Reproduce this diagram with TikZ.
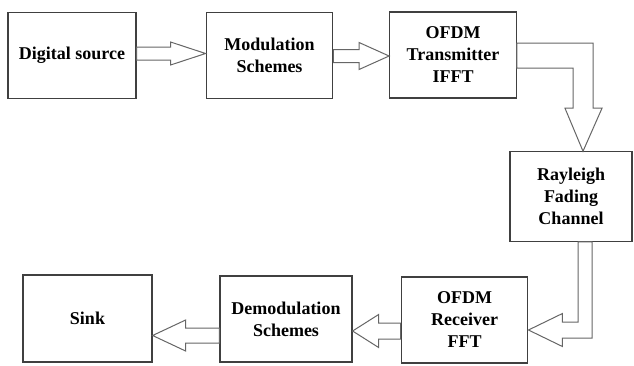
\documentclass[tikz,border=0pt]{standalone}
\usepackage{fontspec}
\setmainfont{Liberation Serif}
\usepackage{tikz}
\usetikzlibrary{calc}

\begin{document}
\begin{tikzpicture}[x=0.75pt,y=-0.75pt,
        block/.style={draw=black!75,line width=0.9pt,inner sep=0pt,align=center,
            minimum width=95pt,minimum height=64pt,
            font=\fontsize{13.5}{16.5}\selectfont\bfseries},
        fat/.style={draw=black!60,line width=0.75pt,fill=white,line join=miter}]
        \useasboundingbox (0,0) rectangle (634,365);

        % blocks
        \node[block,minimum width=96pt] (src) at (72,55.5){Digital source};
        \node[block] (mod) at (269.5,55.5){Modulation\\Schemes};
        \node[block,minimum height=64.5pt] (tx) at (453,55){OFDM\\Transmitter\\IFFT};
        \node[block,minimum width=91.5pt,minimum height=67pt] (ch) at (571,196.5){Rayleigh\\Fading\\Channel};
        \node[block,minimum height=64.5pt] (rx) at (464.5,320){OFDM\\Receiver\\FFT};
        \node[block,minimum width=99pt,minimum height=64.5pt] (dem) at (286,319){Demodulation\\Schemes};
        \node[block,minimum width=96.75pt,minimum height=65.25pt] (sink) at (87.5,318.5){Sink};

        % arrow tips
        \coordinate (t1) at ($(mod.west)+(0,-2)$);
        \coordinate (t2) at ($(tx.west)+(0,1)$);
        \coordinate (t3) at ($(ch.north)+(12,0)$);
        \coordinate (t4) at ($(rx.east)+(0,10)$);
        \coordinate (t5) at ($(dem.east)+(0,12)$);
        \coordinate (t6) at ($(sink.east)+(0,17)$);

        \draw[fat] ($(src.east |- t1)+(0,-6.5)$) -- ($(t1)+(-35,-6.5)$) -- ++(0,-5)
            -- (t1) -- ++(-35,11.5) -- ++(0,-5) -- ($(src.east |- t1)+(0,6.5)$) -- cycle;
        \draw[fat] ($(mod.east |- t2)+(0,-6.5)$) -- ($(t2)+(-30,-6.5)$) -- ++(0,-7)
            -- (t2) -- ++(-30,13.5) -- ++(0,-7) -- ($(mod.east |- t2)+(0,6.5)$) -- cycle;
        \draw[fat] ($(tx.east)+(0,-12)$) -| ($(t3)+(10,-43)$) -- ++(9,0)
            -- (t3) -- ++(-18,-43) -- ++(8,0) |- ($(tx.east)+(0,13)$) -- cycle;
        \draw[fat] ($(ch.south)+(21,0)$) |- ($(t4)+(34,8)$) -- ++(0,8.5)
            -- (t4) -- ++(34,-16.5) -- ++(0,8.5) -| ($(ch.south)+(7,0)$) -- cycle;
        \draw[fat] ($(rx.west |- t5)+(0,-8)$) -- ($(t5)+(26,-8)$) -- ++(0,-8.5)
            -- (t5) -- ++(26,16.5) -- ++(0,-8.5) -- ($(rx.west |- t5)+(0,8)$) -- cycle;
        \draw[fat] ($(dem.west |- t6)+(0,-7.5)$) -- ($(t6)+(33,-7.5)$) -- ++(0,-8)
            -- (t6) -- ++(33,15.5) -- ++(0,-8) -- ($(dem.west |- t6)+(0,7.5)$) -- cycle;
    \end{tikzpicture}
\end{document}
